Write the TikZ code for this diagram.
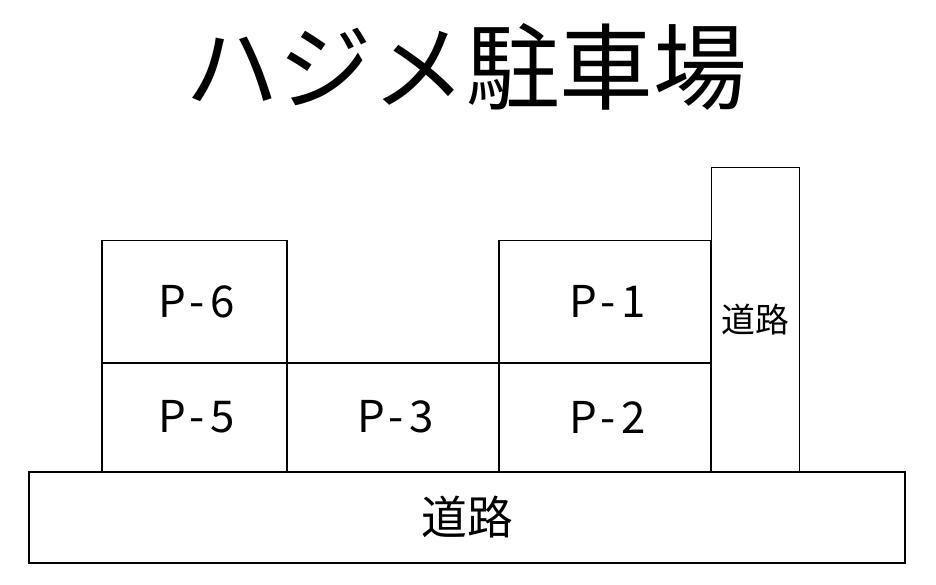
\documentclass[tikz,border=0pt]{standalone}
\usepackage{fontspec}
\setmainfont{Noto Sans CJK JP}
\newfontfamily\jpfont{Noto Sans CJK JP}
\newfontfamily\lotfont[LetterSpace=12]{Noto Sans CJK JP}
\begin{document}
\begin{tikzpicture}[x=1bp,y=-1bp,
  lot/.style={draw=black,line width=1.6bp,inner sep=0pt,font=\lotfont\fontsize{44}{48}\selectfont},
  road/.style={draw=black,line width=1.6bp,inner sep=0pt}]
\useasboundingbox[fill=white] (0,0) rectangle (936,585);
\node[font=\jpfont\fontsize{94}{100}\selectfont] (title) at (466,67) {ハジメ駐車場};
\node[road,minimum width=876bp,minimum height=91bp,font=\jpfont\fontsize{46}{50}\selectfont] (road1) at (467,517.2) {道路};
\node[road,minimum width=88.3bp,minimum height=303.7bp,font=\jpfont\fontsize{34}{36}\selectfont] (road2) at (755.5,319.5) {道路};
\node[lot,minimum width=185bp,minimum height=122bp] (p6) at (194.2,301.7) {P-6\kern-5bp};
\node[lot,minimum width=185bp,minimum height=109bp] (p5) at (194.2,417.2) {P-5\kern-5bp};
\node[lot,minimum width=212.3bp,minimum height=109bp] (p3) at (392.85,417.2) {P-3\kern-5bp};
\node[lot,minimum width=211.7bp,minimum height=109bp] (p2) at (604.85,417.2) {P-2\kern-5bp};
\node[lot,minimum width=211.7bp,minimum height=122bp] (p1) at (604.85,301.7) {P-1\kern-5bp};
\end{tikzpicture}
\end{document}
